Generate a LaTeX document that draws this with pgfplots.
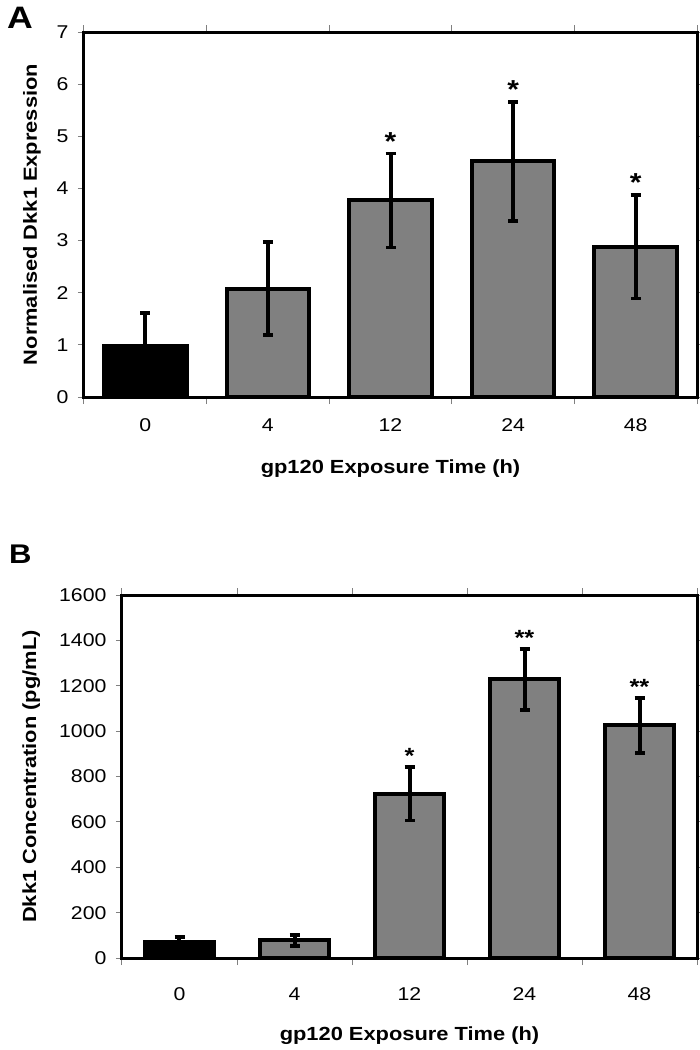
\documentclass[border=0pt]{standalone}
\usepackage{pgfplots}
\pgfplotsset{compat=1.18}
\usepackage{fontspec}
\setmainfont{Liberation Sans}[FakeStretch=1.15]
\definecolor{bargray}{HTML}{808080}
\begin{document}
\begin{tikzpicture}
\pgfplotsset{
  common/.style={
    scale only axis,
    anchor=north west,
    clip=false,
    xmin=-0.5, xmax=4.5, ymin=0,
    xtick={0,1,2,3,4}, xticklabels={0,4,12,24,48},
    minor xtick={-0.5,0.5,1.5,2.5,3.5,4.5},
    tick align=outside,
    major x tick style={draw=none},
    minor x tick style={draw=gray, line width=1pt},
    major y tick style={draw=gray, line width=1pt},
    major tick length=6pt, minor tick length=7pt,
    axis line style={line width=3pt},
    ticklabel style={font=\fontsize{18.5}{22}\selectfont},
    xticklabel style={yshift=-12pt},
    yticklabel style={xshift=-6pt},
    /pgf/number format/assume math mode=true,
    /pgf/number format/1000 sep={},
    xlabel style={font=\bfseries\fontsize{19}{23}\selectfont, anchor=center},
    ylabel style={font=\bfseries\fontsize{19}{23}\selectfont, anchor=center},
  },
  ebar/.style={error bars/.cd, y dir=both, y explicit,
      error bar style={line width=4pt, black},
      error mark options={rotate=90, mark size=5pt, line width=3.5pt, black}},
}
% Panel A
\begin{axis}[common,
  at={(84pt,-32pt)}, width=613pt, height=365pt,
  ymax=7, ytick={0,1,...,7},
  xlabel={gp120 Exposure Time (h)},
  xlabel style={at={(axis description cs:0.5,-0.195)}},
  ylabel={Normalised Dkk1 Expression},
  ylabel style={at={(axis description cs:-0.085,0.5)}},
]
\addplot[ybar, bar width=0.675, fill=black, draw=black, line width=4pt, ebar]
  coordinates {(0,0.98) +- (0,0.63)};
\addplot[ybar, bar width=0.675, fill=bargray, draw=black, line width=4pt, ebar]
  coordinates {(1,2.08) +- (0,0.89) (2,3.77) +- (0,0.90) (3,4.52) +- (0,1.14) (4,2.88) +- (0,0.99)};
\addplot[draw=none, mark=none, nodes near coords, point meta=explicit symbolic,
  nodes near coords style={font=\bfseries\fontsize{26}{30}\selectfont, anchor=base, yshift=2pt}]
  coordinates {(2,4.68) [*] (3,5.68) [*] (4,3.90) [*]};
\end{axis}
% Panel B
\begin{axis}[common,
  at={(122pt,-595pt)}, width=575pt, height=363pt,
  ymax=1600, ytick={0,200,...,1600},
  xticklabel style={yshift=-8pt},
  xlabel={gp120 Exposure Time (h)},
  xlabel style={at={(axis description cs:0.5,-0.215)}},
  ylabel={Dkk1 Concentration (pg/mL)},
  ylabel style={at={(axis description cs:-0.158,0.5)}},
]
\addplot[ybar, bar width=0.6, fill=black, draw=black, line width=4pt, ebar]
  coordinates {(0,72) +- (0,20)};
\addplot[ybar, bar width=0.6, fill=bargray, draw=black, line width=4pt, ebar]
  coordinates {(1,78) +- (0,24) (2,725) +- (0,118) (3,1228) +- (0,135) (4,1025) +- (0,122)};
\addplot[draw=none, mark=none, nodes near coords, point meta=explicit symbolic,
  nodes near coords style={font=\bfseries\fontsize{22}{26}\selectfont, anchor=base, yshift=3.5pt}]
  coordinates {(2,843) [*] (3,1363) [**] (4,1147) [**]};
\end{axis}
\node[anchor=base west, inner sep=0, font=\bfseries\fontsize{31}{35}\selectfont] at (7pt,-28pt) {A};
\node[anchor=base west, inner sep=0, font=\bfseries\fontsize{27}{31}\selectfont] at (9pt,-563pt) {B};
\pgfresetboundingbox
\path[use as bounding box] (0pt,0pt) rectangle (700pt,-1050pt);
\end{tikzpicture}
\end{document}
